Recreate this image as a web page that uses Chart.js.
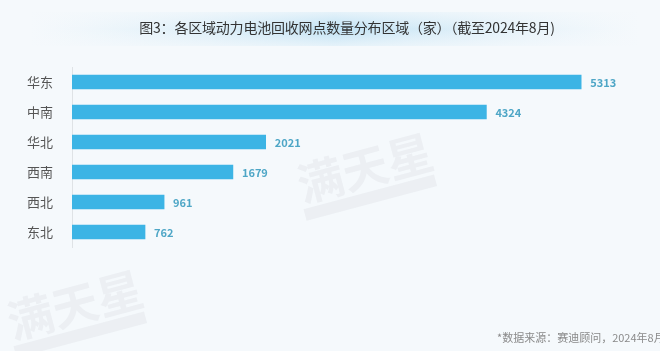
<!DOCTYPE html>
<html>
<head>
<meta charset="utf-8">
<script src="https://cdn.jsdelivr.net/npm/chart.js@4"></script>
<style>
  html, body { margin: 0; padding: 0; background: #f5f9fc; }
  #wrap { position: relative; width: 660px; height: 351px; }
</style>
</head>
<body>
<div id="wrap"><canvas id="regionChart" width="660" height="351"></canvas></div>
<script>
const regions = ['华东', '中南', '华北', '西南', '西北', '东北'];
const siteCounts = [5313, 4324, 2021, 1679, 961, 762];
const chartTitle = '图3：各区域动力电池回收网点数量分布区域（家）（截至2024年8月)';
const sourceNote = '*数据来源：赛迪顾问，2024年8月';

const barColor = '#3cb4e5';
const valueColor = '#4ea6c6';
const cjkFont = '"Noto Sans CJK SC", "Noto Sans", sans-serif';

// background band, title, watermark and footer
const decorPlugin = {
    id: 'decor',
    beforeDraw(chart) {
        const c = chart.ctx;
        c.save();
        c.fillStyle = '#f5f9fc';
        c.fillRect(0, 0, chart.width, chart.height);

        // light blue band behind the title
        const band = c.createLinearGradient(30, 0, 640, 0);
        band.addColorStop(0, 'rgba(220,238,248,0)');
        band.addColorStop(0.5, 'rgba(192,226,244,1)');
        band.addColorStop(1, 'rgba(220,238,248,0)');
        c.fillStyle = band;
        c.fillRect(30, 12, 610, 34);
        const fade = c.createLinearGradient(0, 12, 0, 46);
        fade.addColorStop(0, 'rgba(245,249,252,0.7)');
        fade.addColorStop(0.5, 'rgba(245,249,252,0)');
        fade.addColorStop(1, 'rgba(245,249,252,0.7)');
        c.fillStyle = fade;
        c.fillRect(30, 12, 610, 34);

        c.fillStyle = '#333';
        c.font = '14px ' + cjkFont;
        c.letterSpacing = '-0.2px';
        c.textAlign = 'center';
        c.textBaseline = 'middle';
        c.fillText(chartTitle, 347, 28);
        c.letterSpacing = '0px';

        // faint watermarks
        c.fillStyle = 'rgba(160,165,170,0.11)';
        c.font = 'bold 46px ' + cjkFont;
        [[365, 168], [75, 305]].forEach(([x, y]) => {
            c.save();
            c.translate(x, y);
            c.rotate(-0.26);
            c.fillText('满天星', 0, 0);
            c.fillRect(-70, 24, 135, 12);
            c.restore();
        });
        c.restore();
    },
    afterDraw(chart) {
        const c = chart.ctx;
        c.save();
        c.fillStyle = '#8a8a8a';
        c.font = '11px ' + cjkFont;
        c.textAlign = 'left';
        c.textBaseline = 'middle';
        c.fillText(sourceNote, 497, 338);
        c.restore();
    }
};

// value labels at the end of each bar
const valueLabels = {
    id: 'valueLabels',
    afterDatasetsDraw(chart) {
        const c = chart.ctx;
        const meta = chart.getDatasetMeta(0);
        c.save();
        c.fillStyle = valueColor;
        c.font = 'bold 11px ' + cjkFont;
        c.textAlign = 'left';
        c.textBaseline = 'middle';
        meta.data.forEach((bar, i) => {
            c.fillText(siteCounts[i], bar.x + 9, bar.y + 1);
        });
        c.restore();
    }
};

new Chart(document.getElementById('regionChart'), {
    type: 'bar',
    data: {
        labels: regions,
        datasets: [{
            data: siteCounts,
            backgroundColor: barColor,
            barThickness: 14
        }]
    },
    options: {
        indexAxis: 'y',
        responsive: false,
        animation: false,
        layout: { padding: { top: 67, bottom: 104, left: 0, right: 13 } },
        plugins: {
            legend: { display: false },
            tooltip: { enabled: false }
        },
        scales: {
            x: {
                display: false,
                min: 0,
                max: 6000
            },
            y: {
                grid: { display: false },
                border: { display: true, color: '#dfe3e6', width: 1 },
                ticks: {
                    color: '#555',
                    padding: 11,
                    font: { size: 13, family: cjkFont }
                },
                afterFit(scale) { scale.width = 72; }
            }
        }
    },
    plugins: [decorPlugin, valueLabels]
});
</script>
</body>
</html>
